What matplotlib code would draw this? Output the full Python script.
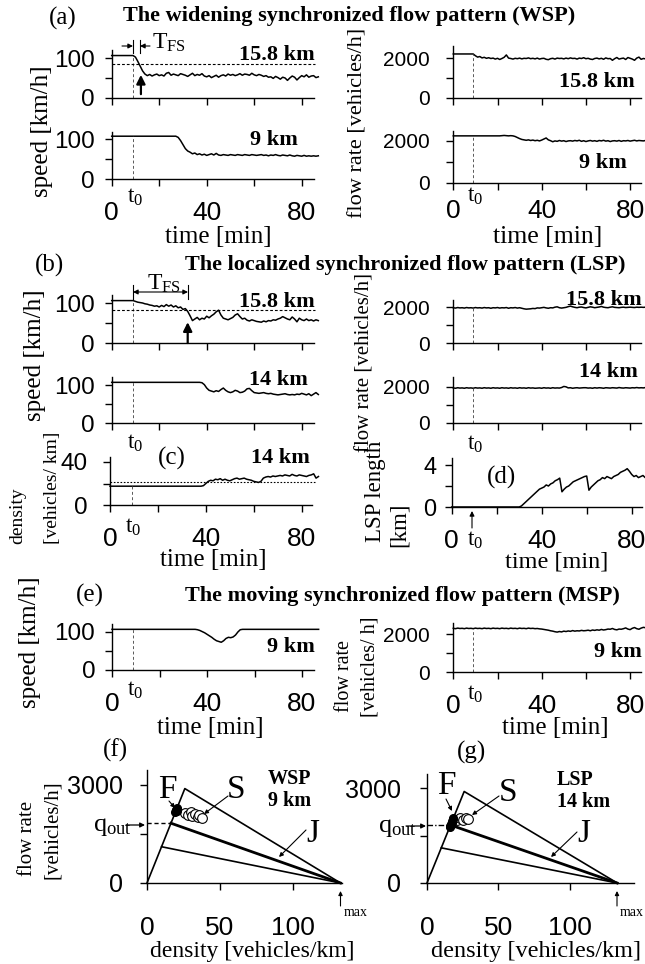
import numpy as np
import matplotlib
matplotlib.use("Agg")
import matplotlib.pyplot as plt
from matplotlib.patches import FancyArrowPatch
from matplotlib.lines import Line2D

plt.rcParams['font.family'] = ['Liberation Serif', 'DejaVu Serif']
plt.rcParams['mathtext.fontset'] = 'custom'
plt.rcParams['mathtext.rm'] = 'Liberation Serif'
plt.rcParams['mathtext.it'] = 'Liberation Serif:italic'
SANS = 'Liberation Sans'

# ---------------------------------------------------------------- data
T0 = 9                      # min, time of the on-ramp perturbation
TIME_TICKS = [0, 20, 40, 60, 80]
TIME_LABELS = ['0', '', '40', '', '80']
NO_LABELS = [''] * 5

# (a) widening synchronized flow pattern, speed [km/h] and flow [veh/h]
wsp_speed_158 = [107] * 10 + [
    103, 92, 80, 68, 60, 56, 59, 55, 58, 60,
    56, 58, 55, 62, 64, 57, 60, 58, 56, 61,
    59, 57, 54, 58, 62, 56, 59, 57, 61, 55,
    53, 56, 51, 54, 57, 52, 56, 58, 55, 60,
    57, 59, 56, 58, 61, 57, 60, 59, 57, 62,
    58, 56, 59, 57, 54, 56, 52, 53, 49, 54,
    51, 47, 52, 50, 44, 50, 55, 52, 45, 51,
    56, 53, 58, 52, 55, 56, 51, 53]
wsp_speed_9 = [107] * 28 + [
    104, 96,
    86, 76, 70, 67, 63, 65, 61, 63, 60, 62,
    59, 61, 63, 60, 64, 60, 59, 61, 60, 59,
    61, 60, 59, 61, 60, 59, 61, 60, 59, 61,
    60, 59, 60, 61, 59, 60, 58, 60, 59, 61,
    59, 58, 60, 59, 58, 60, 58, 57, 59, 58,
    57, 59, 57, 58, 57, 58, 57, 58]
wsp_flow_158 = [2220] * 10 + [
    2130, 2060, 2090, 2020, 2050, 2000, 2030, 1990, 2010, 1960,
    2000, 1940, 1990, 2050, 2170, 2010, 1990, 1960, 2000, 1980,
    2010, 1970, 2000, 1990, 2020, 1980, 2000, 1970, 2010, 1960,
    1990, 2000, 1950, 1930, 1980, 2000, 1960, 2010, 1990, 2000,
    1970, 2010, 1980, 2020, 1990, 2000, 1960, 2010, 1990, 2030,
    1980, 2000, 1960, 1940, 1990, 2010, 1970, 2000, 1950, 2020,
    1980, 1990, 1900, 1980, 2040, 1960, 1990, 2010, 1940, 2040,
    2000, 1960, 1900, 2010, 2060, 1950, 1990, 1970]
wsp_flow_9 = [2230] * 22 + [
    2240, 2250, 2240, 2230, 2240, 2230,
    2200, 2150,
    2100, 2060, 2040, 2020, 2040, 2010, 2030, 2000, 2020, 1990,
    2030, 2080, 2130, 2040, 2000, 1950, 1990, 1970, 2010, 1980,
    2000, 1960, 1990, 2000, 1980, 2010, 1990, 2020, 1970, 2000,
    1960, 1990, 2010, 1980, 2000, 1970, 2010, 1990, 2020, 1980,
    2000, 1960, 1990, 2000, 1980, 2010, 1970, 2000, 1990, 2010,
    1980, 2000, 2020, 1990, 2010, 2000, 1990, 2010]

# (b) localized synchronized flow pattern
lsp_speed_158 = [106] * 10 + [
    104, 102, 101, 100, 98, 97, 95, 94, 92, 93,
    90, 94, 91, 96, 92, 95, 90, 93, 88, 90,
    84, 86, 79, 68, 56, 60, 64, 58, 62, 60,
    67, 63, 68, 72, 78, 82, 70, 62, 60, 58,
    61, 64, 70, 73, 66, 60, 62, 57, 55, 58,
    56, 54, 53, 52, 55, 53, 56, 55, 58, 57,
    60, 62, 66, 63, 60, 58, 65, 60, 53, 62,
    58, 56, 60, 56, 58, 55, 58, 56]
lsp_speed_14 = [107] * 38 + [
    106, 101,
    92, 86, 84, 82, 85, 83, 88, 92, 86, 82,
    80, 82, 86, 84, 80, 81, 84, 90, 91, 85,
    80, 79, 78, 79, 80, 78, 77, 78, 76, 75,
    74, 75, 76, 77, 75, 74, 75, 74, 76, 75,
    78, 76, 74, 77, 72, 76, 80, 75]
lsp_flow_158 = [
    1960, 1940, 1970, 1950, 1960, 1940, 1970, 1950, 1960, 1940,
    1970, 1950, 1960, 1940, 1970, 1950, 1960, 1930, 1960, 1950,
    1970, 1940, 1960, 1950, 1970, 1930, 1960, 1950, 1970, 1940,
    1960, 1930, 1900, 1880, 1890, 1900, 1920, 1910, 1950, 1940,
    1960, 1980, 1950, 1930, 1960, 1950, 1990, 2010, 1960, 1940,
    1960, 1980, 2020, 2050, 2010, 1980, 1960, 1990, 2000, 1970,
    1950, 1980, 2010, 1990, 1960, 1980, 2000, 2030, 1990, 1970,
    1960, 1990, 2010, 1980, 1970, 1960, 1980, 1990, 1970, 1980,
    1990, 1980, 1970, 1990, 1980, 1990, 1980, 1990]
lsp_flow_14 = [
    1950, 1930, 1960, 1940, 1950, 1930, 1960, 1940, 1950, 1930,
    1960, 1940, 1950, 1930, 1960, 1940, 1950, 1930, 1960, 1940,
    1950, 1930, 1960, 1940, 1950, 1930, 1960, 1940, 1950, 1930,
    1960, 1940, 1950, 1930, 1960, 1940, 1950, 1930, 1940, 1950,
    1930, 1960, 1940, 1950, 1930, 1960, 1940, 1950, 1940, 1970,
    2030, 2010, 1950, 1960, 1930, 1950, 1960, 1940, 1950, 1960,
    1960, 1940, 1950, 1930, 1960, 1940, 1960, 1950, 1930, 1960,
    1950, 1940, 1960, 1950, 1940, 1970, 1950, 1940, 1960, 1950,
    1940, 1960, 1950, 1970, 1950, 1960, 1950, 1970]

# (c) density at 14 km [vehicles/km]
lsp_density_14 = [17.5] * 39 + [
    18.0,
    20, 22, 23, 22.5, 24, 23.5, 24.5, 23, 24, 23,
    22.5, 23.5, 24.5, 25, 24, 24.5, 25, 24, 23.5, 23,
    22, 21.5, 21, 22, 25, 26, 26.5, 26, 27, 26.5,
    27, 27.5, 27, 28, 27.5, 27, 28.5, 27.5, 27, 28,
    27.5, 27, 26.5, 27.5, 28, 29, 25, 26.5]
density_threshold = 21.5

# (d) LSP length [km]
lsp_length = [0.0] * 31 + [
    0.1, 0.3, 0.5, 0.7, 0.9, 1.1, 1.3, 1.5, 1.7,
    1.8, 1.9, 2.1, 2.0, 2.2, 2.3, 2.5, 2.6, 2.75, 1.45,
    1.7, 1.9, 2.0, 2.2, 2.4, 2.5, 2.6, 2.7, 2.8, 2.9,
    2.95, 1.6, 1.9, 2.1, 2.3, 2.5, 2.6, 2.8, 2.7, 2.9,
    2.8, 2.7, 2.9, 3.0, 3.1, 3.3, 3.4, 3.5, 3.65, 3.4,
    3.1, 2.9, 3.0, 2.8, 2.9, 3.0, 2.8, 2.9]

# (e) moving synchronized flow pattern at 9 km
msp_speed_9 = [107] * 36 + [
    106, 104, 101, 98,
    94, 90, 86, 81, 77, 75, 73, 77, 83, 86,
    85, 87, 92, 100, 106] + [107] * 33
msp_flow_9 = [
    2300, 2280, 2310, 2290, 2300, 2280, 2310, 2290, 2300, 2280,
    2310, 2290, 2300, 2280, 2310, 2290, 2300, 2280, 2310, 2290,
    2300, 2280, 2310, 2290, 2300, 2280, 2310, 2290, 2300, 2280,
    2310, 2290, 2300, 2280, 2310, 2290, 2300, 2280, 2290, 2270,
    2260, 2240, 2220, 2200, 2170, 2150, 2120, 2100, 2130, 2110,
    2150, 2130, 2160, 2140, 2180, 2150, 2170, 2160, 2190, 2170,
    2180, 2200, 2170, 2210, 2190, 2220, 2200, 2240, 2210, 2230,
    2260, 2250, 2290, 2240, 2220, 2260, 2250, 2280, 2320, 2260,
    2230, 2300, 2340, 2280, 2250, 2310, 2350, 2330]

SPEED_THRESHOLD = 85        # km/h, dashed line in the speed plots
T_BREAK_WSP = 12.3          # min, F->S transition at 15.8 km (WSP)
T_BREAK_LSP = 32            # min, F->S transition at 15.8 km (LSP)

# (f), (g) flow-density plane
RHO_MAX = 133
boundary_rho = [0, 26, RHO_MAX]
boundary_q = [0, 2890, 0]
line_J_rho = [16.5, RHO_MAX]
line_J_q = [1830, 0]
line_low_rho = [10, RHO_MAX]
line_low_q = [1110, 0]
Q_OUT = 1830

wsp_F_rho = [19.5, 19.8, 20.1, 20.4, 20.6, 19.9, 20.3]
wsp_F_q = [2170, 2200, 2230, 2260, 2290, 2240, 2210]
wsp_S_rho = [26, 28, 30, 31, 33, 35, 36, 38]
wsp_S_q = [2130, 2080, 2170, 2060, 2120, 2010, 2090, 2000]
lsp_F_rho = [15.8, 16.3, 16.8, 17.2, 17.6, 18.0, 18.4]
lsp_F_q = [1760, 1810, 1860, 1910, 1960, 2010, 2060]
lsp_S_rho = [21, 23, 25, 27, 29]
lsp_S_q = [2000, 2050, 1990, 2060, 2020]

# ---------------------------------------------------------------- layout helpers
W, H = 645, 964
fig = plt.figure(figsize=(W / 100, H / 100), dpi=100)


def P(x, y):
    return (x / W, 1 - y / H)


def ftext(x, y, s, **kw):
    kw.setdefault('ha', 'center')
    kw.setdefault('va', 'center')
    fig.text(x / W, 1 - y / H, s, **kw)


def farrow(x1, y1, x2, y2, style='-|>', lw=1.0, ms=10):
    fig.add_artist(FancyArrowPatch(P(x1, y1), P(x2, y2), transform=fig.transFigure,
                                   arrowstyle=style, mutation_scale=ms, lw=lw,
                                   color='k', shrinkA=0, shrinkB=0))


def fline(xs, ys, **kw):
    fig.add_artist(Line2D([x / W for x in xs], [1 - y / H for y in ys],
                          transform=fig.transFigure, **kw))


def panel(x0, xs, xlim, y0, ys, ylim, xticks, xlabels, yticks, ylabels,
          xfs=19, yfs=17.5, xpad=11, ypad=7):
    left = x0 + xlim[0] * xs
    width = (xlim[1] - xlim[0]) * xs
    bot = y0 - ylim[0] * ys
    height = (ylim[1] - ylim[0]) * ys
    ax = fig.add_axes([left / W, 1 - bot / H, width / W, height / H])
    ax.set_xlim(*xlim)
    ax.set_ylim(*ylim)
    for s in ('top', 'right'):
        ax.spines[s].set_visible(False)
    for s in ('left', 'bottom'):
        ax.spines[s].set_linewidth(1.0)
    ax.patch.set_alpha(0)
    ax.set_xticks(xticks)
    ax.set_xticklabels(xlabels, fontfamily=SANS, fontsize=xfs)
    ax.set_yticks(yticks)
    ax.set_yticklabels(ylabels, fontfamily=SANS, fontsize=yfs)
    ax.tick_params(axis='x', direction='out', length=5, width=1.0, pad=xpad)
    ax.tick_params(axis='y', direction='out', length=5, width=1.0, pad=ypad)
    return ax


def trace(ax, values, lw=1.1):
    ax.plot(np.arange(len(values)), values, color='k', lw=lw, clip_on=False)


def t0_line(ax, values):
    ax.plot([T0, T0], [0, values[T0]], color='0.35', lw=0.7, ls=(0, (3, 2.5)))


def t0_label(ax, dy):
    ax.annotate('t$_0$', xy=(T0, 0), xytext=(2, -dy), textcoords='offset pixels',
                ha='center', va='center', fontsize=17)


SPEED_TICKS, SPEED_LABELS = [0, 50, 100], ['0', '', '100']
FLOW_TICKS, FLOW_LABELS = [0, 1000, 2000], ['0', '', '2000']
BOLD = dict(fontweight='bold', fontsize=16)
RIGHT = dict(yfs=15, ypad=12)

# ---------------------------------------------------------------- (a) WSP
ftext(63, 18, '(a)', fontsize=18)
ftext(123, 16, 'The widening synchronized flow pattern (WSP)', ha='left', **BOLD)

a1 = panel(111.7, 2.375, (0, 85), 97.7, 0.394, (0, 122),
           TIME_TICKS, NO_LABELS, SPEED_TICKS, SPEED_LABELS)
trace(a1, wsp_speed_158)
t0_line(a1, wsp_speed_158)
a1.plot([0, 85.5], [SPEED_THRESHOLD] * 2, color='k', lw=0.8, ls=(0, (2.5, 1.8)),
        clip_on=False)
a1.annotate('', xy=(T_BREAK_WSP, 58), xytext=(T_BREAK_WSP, 9),
            arrowprops=dict(arrowstyle='-|>', lw=1.6, color='k', mutation_scale=13,
                            shrinkA=0, shrinkB=0))
ftext(315, 55, '15.8 km', ha='right', **BOLD)
# T_FS bracket
farrow(122, 46, 133, 46, ms=7, lw=0.8)
farrow(150, 46, 140, 46, ms=7, lw=0.8)
fline([133, 133], [40, 53], color='k', lw=0.8)
fline([140, 140], [40, 53], color='k', lw=0.8)
ftext(152, 43, 'T$_{\\rm FS}$', ha='left', fontsize=17)

a2 = panel(111.7, 2.375, (0, 85), 179, 0.40, (0, 118),
           TIME_TICKS, TIME_LABELS, SPEED_TICKS, SPEED_LABELS)
trace(a2, wsp_speed_9)
t0_line(a2, wsp_speed_9)
t0_label(a2, 18)
ftext(298, 140, '9 km', ha='right', **BOLD)
ftext(42, 131, 'speed [km/h]', rotation=90, fontsize=18)
ftext(218, 237, 'time [min]', fontsize=18)

a3 = panel(453.3, 2.21, (0, 85), 97.7, 0.0197, (0, 2600),
           TIME_TICKS, NO_LABELS, FLOW_TICKS, FLOW_LABELS, **RIGHT)
trace(a3, wsp_flow_158)
t0_line(a3, wsp_flow_158)
ftext(635, 82, '15.8 km', ha='right', **BOLD)

a4 = panel(453.3, 2.21, (0, 85), 182.7, 0.021, (0, 2480),
           TIME_TICKS, TIME_LABELS, FLOW_TICKS, FLOW_LABELS, xpad=7, **RIGHT)
trace(a4, wsp_flow_9)
t0_line(a4, wsp_flow_9)
t0_label(a4, 14)
ftext(627, 163, '9 km', ha='right', **BOLD)
ftext(358, 123, 'flow rate [vehicles/h]', rotation=90, fontsize=16)
ftext(548, 237, 'time [min]', fontsize=18.5)

# ---------------------------------------------------------------- (b) LSP
ftext(50, 265, '(b)', fontsize=18)
ftext(185, 265, 'The localized synchronized flow pattern (LSP)', ha='left', **BOLD)

b1 = panel(111.7, 2.375, (0, 85), 343, 0.40, (0, 120),
           TIME_TICKS, NO_LABELS, SPEED_TICKS, SPEED_LABELS)
trace(b1, lsp_speed_158)
t0_line(b1, lsp_speed_158)
b1.plot([0, 85.5], [83] * 2, color='k', lw=0.8, ls=(0, (2.5, 1.8)), clip_on=False)
b1.annotate('', xy=(T_BREAK_LSP, 52), xytext=(T_BREAK_LSP, 0),
            arrowprops=dict(arrowstyle='-|>', lw=1.6, color='k', mutation_scale=13,
                            shrinkA=0, shrinkB=0))
ftext(315, 302, '15.8 km', ha='right', **BOLD)
farrow(133, 292, 188, 292, style='<|-|>', ms=7, lw=0.8)
fline([133, 133], [285, 299], color='k', lw=0.8)
fline([188, 188], [285, 299], color='k', lw=0.8)
ftext(147, 284, 'T$_{\\rm FS}$', ha='left', fontsize=17)

b2 = panel(111.7, 2.375, (0, 85), 423, 0.38, (0, 122),
           TIME_TICKS, NO_LABELS, SPEED_TICKS, SPEED_LABELS)
trace(b2, lsp_speed_14)
t0_line(b2, lsp_speed_14)
t0_label(b2, 20)
ftext(308, 380, '14 km', ha='right', **BOLD)
ftext(35, 355, 'speed [km/h]', rotation=90, fontsize=18)

b3 = panel(453.3, 2.21, (0, 85), 343, 0.018, (0, 2400),
           TIME_TICKS, NO_LABELS, FLOW_TICKS, FLOW_LABELS, **RIGHT)
trace(b3, lsp_flow_158)
t0_line(b3, lsp_flow_158)
ftext(642, 300, '15.8 km', ha='right', **BOLD)

b4 = panel(453.3, 2.21, (0, 85), 423, 0.018, (0, 2550),
           TIME_TICKS, NO_LABELS, FLOW_TICKS, FLOW_LABELS, **RIGHT)
trace(b4, lsp_flow_14)
t0_line(b4, lsp_flow_14)
t0_label(b4, 21)
ftext(638, 372, '14 km', ha='right', **BOLD)
ftext(365, 362, 'flow rate [vehicles/h]', rotation=90, fontsize=15)

# ---------------------------------------------------------------- (c) density
c = panel(110, 2.396, (0, 84.5), 505, 1.075, (0, 45),
          TIME_TICKS, TIME_LABELS, [0, 20, 40], ['0', '', '40'], ypad=11)
trace(c, lsp_density_14)
t0_line(c, lsp_density_14)
c.plot([0, 85.5], [density_threshold] * 2, color='k', lw=0.8, ls=(0, (1.5, 1.5)),
       clip_on=False)
t0_label(c, 22)
ftext(172, 458, '(c)', fontsize=18)
ftext(310, 458, '14 km', ha='right', **BOLD)
ftext(18, 544, 'density', rotation=90, va='bottom', fontsize=14)
ftext(53, 544, '[vehicles/ km]', rotation=90, va='bottom', fontsize=14)
ftext(213, 560, 'time [min]', fontsize=18)

# ---------------------------------------------------------------- (d) LSP length
d = panel(451.7, 2.25, (0, 84.5), 507, 10.5, (0, 4.7),
          TIME_TICKS, TIME_LABELS, [0, 2, 4], ['0', '', '4'], yfs=17, ypad=6)
d.plot(np.arange(len(lsp_length)), lsp_length, color='k', lw=1.1, clip_on=False)
ftext(502, 477, '(d)', fontsize=18)
farrow(472, 528, 472, 511, ms=7, lw=0.8)
ftext(475, 540, 't$_0$', fontsize=17)
ftext(376, 542, 'LSP length', rotation=90, va='bottom', fontsize=16.5)
ftext(399, 547, '[km]', rotation=90, va='bottom', fontsize=16.5)
ftext(557, 562, 'time [min]', fontsize=17.5)

# ---------------------------------------------------------------- (e) MSP
ftext(90, 595, '(e)', fontsize=18)
ftext(185, 596, 'The moving synchronized flow pattern (MSP)', ha='left', **BOLD)

e1 = panel(112, 2.375, (0, 85), 670, 0.38, (0, 120),
           TIME_TICKS, TIME_LABELS, SPEED_TICKS, SPEED_LABELS)
trace(e1, msp_speed_9)
t0_line(e1, msp_speed_9)
t0_label(e1, 20)
ftext(315, 647, '9 km', ha='right', **BOLD)
ftext(30, 642, 'speed [km/h]', rotation=90, fontsize=18)
ftext(210, 728, 'time [min]', fontsize=18)

e2 = panel(453.3, 2.21, (0, 85), 672, 0.019, (0, 2580),
           TIME_TICKS, TIME_LABELS, FLOW_TICKS, FLOW_LABELS, **RIGHT)
trace(e2, msp_flow_9)
t0_line(e2, msp_flow_9)
t0_label(e2, 22)
ftext(642, 652, '9 km', ha='right', **BOLD)
ftext(345, 676, 'flow rate', rotation=90, fontsize=14.5)
ftext(370, 667, '[vehicles/ h]', rotation=90, fontsize=14.5)
ftext(555, 728, 'time [min]', fontsize=18)


# ---------------------------------------------------------------- (f), (g) flow-density plane
def plane(x0, xs, xmax, ys, F_rho, F_q, S_rho, S_q, ypad):
    ax = panel(x0, xs, (0, xmax), 883, ys, (0, 3450), [0, 50, 100], ['0', '50', '100'],
               [0, 1500, 3000], ['0', '', '3000'], xfs=19, yfs=18, xpad=19, ypad=ypad)
    ax.plot(boundary_rho, boundary_q, color='k', lw=1.2, clip_on=False)
    ax.plot(line_J_rho, line_J_q, color='k', lw=2.0, clip_on=False)
    ax.plot(line_low_rho, line_low_q, color='k', lw=1.2, clip_on=False)
    ax.plot(S_rho, S_q, 'o', ms=7, mfc='white', mec='k', mew=0.8, clip_on=False)
    ax.plot(F_rho, F_q, 'o', ms=5.5, mfc='k', mec='k', clip_on=False)
    return ax


f = plane(147, 1.455, 134, 98 / 3000, wsp_F_rho, wsp_F_q, wsp_S_rho, wsp_S_q, 12)
f.plot([0, line_J_rho[0]], [Q_OUT] * 2, color='k', lw=1.0, ls=(0, (3, 2)))
g = plane(427, 1.43, 145, 95 / 3000, lsp_F_rho, lsp_F_q, lsp_S_rho, lsp_S_q, 14)
g.plot([0, line_J_rho[0]], [Q_OUT] * 2, color='k', lw=1.0, ls=(0, (4, 1.5, 1, 1.5)))

ftext(115, 750, '(f)', fontsize=18)
ftext(472, 752, '(g)', fontsize=18)

# (f) annotations
ftext(167, 790, 'F', fontsize=24)
ftext(236, 790, 'S', fontsize=24)
ftext(313, 834, 'J', fontsize=24)
farrow(169, 801, 175, 808, ms=6, lw=0.8)
farrow(228, 796, 204, 814, ms=6, lw=0.8)
farrow(306, 830, 279, 857, ms=6, lw=0.8)
ftext(289, 779, 'WSP', fontsize=14.5, fontweight='bold')
ftext(290, 801, '9 km', fontsize=14.5, fontweight='bold')
ftext(112, 827, 'q$_{\\rm out}$', fontsize=19)
farrow(126, 825, 145, 825, ms=7, lw=0.9)
farrow(340.5, 906, 340.5, 891, ms=6, lw=0.8)
ftext(356, 913, 'max', fontsize=10)
ftext(27, 838, 'flow rate', rotation=90, fontsize=15)
ftext(52, 830, '[vehicles/h]', rotation=90, fontsize=15)
ftext(252, 951, 'density [vehicles/km]', fontsize=17)

# (g) annotations
ftext(446, 786, 'F', fontsize=24)
ftext(508, 793, 'S', fontsize=24)
ftext(584, 834, 'J', fontsize=24)
farrow(446, 799, 452, 811, ms=6, lw=0.8)
farrow(499, 796, 472, 815, ms=6, lw=0.8)
farrow(577, 832, 551, 857, ms=6, lw=0.8)
ftext(557, 780, 'LSP', ha='left', fontsize=14.5, fontweight='bold')
ftext(557, 802, '14 km', ha='left', fontsize=14.5, fontweight='bold')
ftext(397, 828, 'q$_{\\rm out}$', fontsize=19)
farrow(406, 826, 426, 826, ms=7, lw=0.9)
farrow(617, 906, 617, 891, ms=6, lw=0.8)
ftext(632, 913, 'max', fontsize=10)
ftext(536, 952, 'density [vehicles/km]', fontsize=17.5)

fig.savefig('out.png', dpi=100)
